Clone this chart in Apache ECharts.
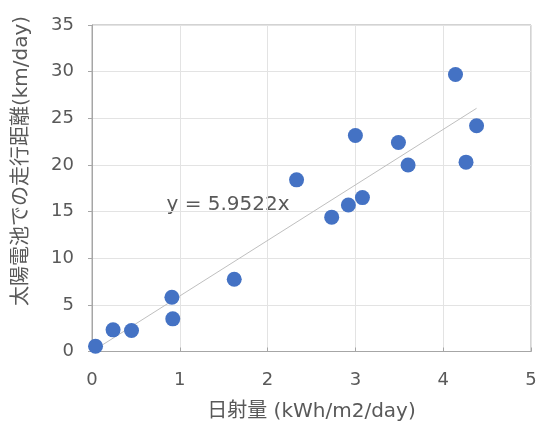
<!DOCTYPE html>
<html>
<head>
<meta charset="utf-8">
<script src="https://cdn.jsdelivr.net/npm/echarts@6/dist/echarts.min.js"></script>
<style>
  html, body { margin: 0; padding: 0; background: #fff; }
  #chart { width: 537px; height: 421px; }
</style>
</head>
<body>
<div id="chart"></div>
<script>
// Daily solar irradiation (kWh/m2/day) vs. distance driven on solar power (km/day)
const irradiance = [0.04, 0.24, 0.45, 0.91, 0.92, 1.62, 2.73, 2.92, 3.08, 2.33, 3.00, 3.49, 3.60, 4.14, 4.26, 4.38];
const distance   = [0.57, 2.32, 2.25, 5.82, 3.50, 7.75, 14.4, 15.7, 16.5, 18.4, 23.15, 22.4, 20.0, 29.7, 20.3, 24.2];

// Linear trend through the origin
const trendSlope = 5.9522;
const trendRange = [0.04, 4.38];

const xTicks = [0, 1, 2, 3, 4, 5];
const yTicks = [0, 5, 10, 15, 20, 25, 30, 35];

const xTitle = '日射量 (kWh/m2/day)';
const yTitle = '太陽電池での走行距離(km/day)';

const points = irradiance.map((x, i) => [x, distance[i]]);
const trendLine = trendRange.map(x => [x, trendSlope * x]);

const font = '"DejaVu Sans", "Noto Sans CJK JP", sans-serif';
const textColor = '#595959';

const chart = echarts.init(document.getElementById('chart'));
chart.setOption({
  animation: false,
  backgroundColor: '#fff',
  grid: {
    left: 92, top: 25, right: 6, bottom: 69.5,
    outerBoundsMode: 'none',
    show: true, borderColor: '#a6a6a6', borderWidth: 1
  },
  xAxis: {
    type: 'value',
    min: xTicks[0], max: xTicks[xTicks.length - 1], interval: 1,
    name: xTitle,
    nameLocation: 'middle', nameGap: 50,
    nameTextStyle: { color: textColor, fontSize: 20, fontFamily: font },
    axisLine: { show: true, lineStyle: { color: '#a6a6a6', width: 1 } },
    axisTick: { show: true, inside: true, length: 4, lineStyle: { color: '#a6a6a6' } },
    axisLabel: { color: textColor, fontSize: 18, fontFamily: font, margin: 20 },
    splitLine: { show: true, lineStyle: { color: '#e3e3e3', width: 1 } }
  },
  yAxis: {
    type: 'value',
    min: yTicks[0], max: yTicks[yTicks.length - 1], interval: 5,
    axisLine: { show: true, lineStyle: { color: '#a6a6a6', width: 1 } },
    axisTick: { show: true, inside: false, length: 4, lineStyle: { color: '#a6a6a6' } },
    axisLabel: { color: textColor, fontSize: 18, fontFamily: font, margin: 18 },
    splitLine: { show: true, lineStyle: { color: '#e3e3e3', width: 1 } }
  },
  series: [
    {
      type: 'line',
      data: trendLine,
      symbol: 'none',
      lineStyle: { color: '#bfbfbf', width: 1 },
      z: 2,
      silent: true
    },
    {
      type: 'scatter',
      data: points,
      symbol: 'circle',
      symbolSize: 15,
      itemStyle: { color: '#4472C4', opacity: 1 },
      z: 3
    }
  ],
  graphic: [
    {
      // vertical y-axis title, placed a little above the plot's middle
      type: 'text',
      x: 22, y: 161,
      rotation: Math.PI / 2,
      style: {
        text: yTitle,
        fill: textColor,
        font: '20px ' + font,
        align: 'center',
        verticalAlign: 'middle'
      }
    },
    {
      type: 'text',
      x: 228, y: 205,
      style: {
        text: 'y = ' + trendSlope + 'x',
        fill: textColor,
        font: '20px ' + font,
        align: 'center',
        verticalAlign: 'middle'
      }
    }
  ]
});
</script>
</body>
</html>
